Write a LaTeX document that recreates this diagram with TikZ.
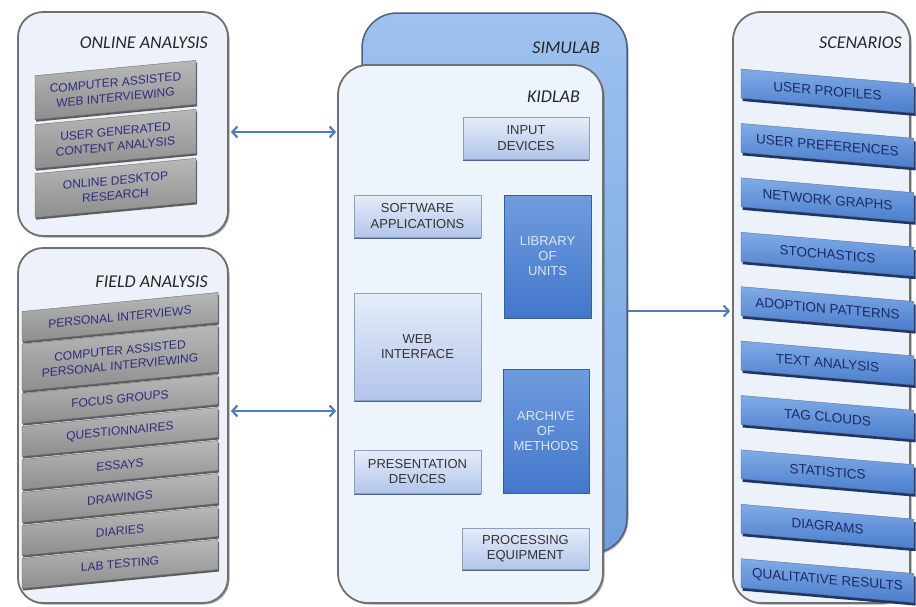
\documentclass[tikz,border=0pt]{standalone}
\usepackage{fontspec}
\setmainfont{Liberation Sans}
\newfontfamily\titlefont{Carlito}
\usetikzlibrary{shadows,arrows.meta}
\definecolor{panelfill}{HTML}{EDF2FA}
\definecolor{panelborder}{HTML}{707070}
\definecolor{simtop}{HTML}{9DC2EF}
\definecolor{simbot}{HTML}{6F9FDD}
\definecolor{simborder}{HTML}{4B5F80}
\definecolor{kidfill}{HTML}{EEF4FC}
\definecolor{lbtop}{HTML}{E6EDF9}
\definecolor{lbbot}{HTML}{B2C5EA}
\definecolor{lbborder}{HTML}{8A9FC8}
\definecolor{lbshadow}{HTML}{4E6594}
\definecolor{dbtop}{HTML}{6E9CDE}
\definecolor{dbbot}{HTML}{4477CA}
\definecolor{dbtext}{HTML}{DCE5F3}
\definecolor{gbtop}{HTML}{B8B8B8}
\definecolor{gbbot}{HTML}{8E8E8E}
\definecolor{gbborder}{HTML}{6E6E6E}
\definecolor{gbshadow}{HTML}{5C5C5C}
\definecolor{gtext}{HTML}{2D2D7D}
\definecolor{bbtop}{HTML}{80ABE6}
\definecolor{bbbot}{HTML}{4A7DCC}
\definecolor{bbshadow}{HTML}{1E3566}
\definecolor{btext}{HTML}{1C2A66}
\definecolor{arrowc}{HTML}{4F7DBF}
\definecolor{titlec}{HTML}{262626}
\definecolor{ktext}{HTML}{333333}
\begin{document}
\begin{tikzpicture}[x=1pt,y=1pt,
  panel/.style={draw=panelborder, line width=1.8pt, fill=panelfill, rounded corners=25pt,
    drop shadow={shadow xshift=1.5pt, shadow yshift=-1.5pt, opacity=0.35, fill=black}},
  ttl/.style={anchor=east, inner sep=0pt, text=titlec, font=\titlefont\itshape\fontsize{18}{20}\selectfont},
  graybar/.style={draw=gbborder, line width=0.4pt, top color=gbtop, bottom color=gbbot,
    transform shape, inner sep=0pt, align=center, text=gtext,
    font=\fontsize{12}{15}\selectfont,
    drop shadow={shadow xshift=1.2pt, shadow yshift=-2pt, fill=gbshadow, opacity=1}},
  bluebar/.style={draw=bbshadow!70, line width=0.4pt, top color=bbtop, bottom color=bbbot,
    yslant=-0.086, transform shape, inner sep=0pt, align=center, text=btext,
    minimum width=173pt, minimum height=29pt,
    font=\fontsize{13.5}{15}\selectfont,
    drop shadow={shadow xshift=1.5pt, shadow yshift=-3pt, fill=bbshadow, opacity=1}},
  lightbox/.style={draw=lbborder, line width=0.6pt, top color=lbtop, bottom color=lbbot,
    inner sep=0pt, align=center, text=ktext, font=\fontsize{13}{15.5}\selectfont,
    drop shadow={shadow xshift=0pt, shadow yshift=-1.8pt, fill=lbshadow, opacity=1}},
  darkbox/.style={draw=dbbot!80!black, line width=0.5pt, top color=dbtop, bottom color=dbbot,
    inner sep=0pt, align=center, text=dbtext, font=\fontsize{13}{15}\selectfont,
    drop shadow={shadow xshift=0pt, shadow yshift=-1.2pt, fill=lbshadow, opacity=0.8}},
  arr/.style={draw=arrowc, line width=2.2pt, >={Straight Barb[length=5pt,width=11pt]}}
]
\useasboundingbox (0,0) rectangle (916,-606);
\fill[white] (0,0) rectangle (916,-606);

% ---------- left panels ----------
\node[panel, minimum width=210pt, minimum height=224pt] (online) at (123,-124) {};
\node[ttl] (tonline) at (208,-43) {ONLINE ANALYSIS};
\begin{scope}[every node/.append style={yslant=0.095, minimum width=161pt, minimum height=44pt}]
\node[graybar] (o1) at (115.5,-90) {COMPUTER ASSISTED\\WEB INTERVIEWING};
\node[graybar] (o2) at (115.5,-139) {USER GENERATED\\CONTENT ANALYSIS};
\node[graybar] (o3) at (115.5,-188) {ONLINE DESKTOP\\RESEARCH};
\end{scope}

\node[panel, minimum width=210pt, minimum height=355pt] (field) at (123,-425.5) {};
\node[ttl] (tfield) at (208,-282) {FIELD ANALYSIS};
\begin{scope}[every node/.append style={yslant=0.097, minimum width=196pt, minimum height=30pt}]
\node[graybar] (f1) at (120,-317) {PERSONAL INTERVIEWS};
\node[graybar, minimum height=47pt] (f2) at (120,-358) {COMPUTER ASSISTED\\PERSONAL INTERVIEWING};
\node[graybar] (f3) at (120,-399) {FOCUS GROUPS};
\node[graybar] (f4) at (120,-432) {QUESTIONNAIRES};
\node[graybar] (f5) at (120,-465) {ESSAYS};
\node[graybar] (f6) at (120,-498) {DRAWINGS};
\node[graybar] (f7) at (120,-531) {DIARIES};
\node[graybar] (f8) at (120,-564) {LAB TESTING};
\end{scope}

% ---------- centre ----------
\node[draw=simborder, line width=1.5pt, top color=simtop, bottom color=simbot, rounded corners=35pt,
  minimum width=265pt, minimum height=540pt,
  drop shadow={shadow xshift=1.5pt, shadow yshift=-1.5pt, opacity=0.3, fill=black}] (simulab) at (494.5,-283) {};
\node[ttl] (tsim) at (600,-48) {SIMULAB};
\node[draw=panelborder, line width=1.8pt, fill=kidfill, rounded corners=30pt,
  minimum width=265pt, minimum height=538pt,
  drop shadow={shadow xshift=1.5pt, shadow yshift=-1.5pt, opacity=0.35, fill=black}] (kidlab) at (470.5,-334) {};
\node[ttl] (tkid) at (580,-97) {KIDLAB};

\node[lightbox, minimum width=126pt, minimum height=42pt] (input) at (526,-138) {INPUT\\DEVICES};
\node[lightbox, minimum width=127pt, minimum height=42pt] (soft) at (417.5,-216) {SOFTWARE\\APPLICATIONS};
\node[darkbox, minimum width=87pt, minimum height=123pt] (lib) at (547.5,-256.5) {LIBRARY\\OF\\UNITS};
\node[lightbox, minimum width=127pt, minimum height=107pt] (web) at (417.5,-346.5) {WEB\\INTERFACE};
\node[darkbox, minimum width=86pt, minimum height=124pt] (arch) at (546,-431) {ARCHIVE\\OF\\METHODS};
\node[lightbox, minimum width=127pt, minimum height=43pt] (pres) at (417.5,-471.5) {PRESENTATION\\DEVICES};
\node[lightbox, minimum width=127pt, minimum height=41pt] (proc) at (525.5,-548.5) {PROCESSING\\EQUIPMENT};

% ---------- right panel ----------
\node[panel, rounded corners=28pt, minimum width=177pt, minimum height=591pt] (scen) at (821.5,-307.5) {};
\node[ttl] (tscen) at (902,-43) {SCENARIOS};
\node[bluebar] (s1) at (827.5,-91) {USER PROFILES};
\node[bluebar] (s2) at (827.5,-145.4) {USER PREFERENCES};
\node[bluebar] (s3) at (827.5,-199.8) {NETWORK GRAPHS};
\node[bluebar] (s4) at (827.5,-254.2) {STOCHASTICS};
\node[bluebar] (s5) at (827.5,-308.6) {ADOPTION PATTERNS};
\node[bluebar] (s6) at (827.5,-363) {TEXT ANALYSIS};
\node[bluebar] (s7) at (827.5,-417.4) {TAG CLOUDS};
\node[bluebar] (s8) at (827.5,-471.8) {STATISTICS};
\node[bluebar] (s9) at (827.5,-526.2) {DIAGRAMS};
\node[bluebar] (s10) at (827.5,-580.6) {QUALITATIVE RESULTS};

% ---------- connectors ----------
\coordinate (ya) at (0,-132);
\coordinate (yb) at (0,-411);
\coordinate (yc) at (0,-311);
\draw[arr, <->] ([xshift=2pt]online.east |- ya) -- ([xshift=-1pt]kidlab.west |- ya);
\draw[arr, <->] ([xshift=2pt]field.east |- yb) -- ([xshift=-1pt]kidlab.west |- yb);
\draw[arr, ->] (simulab.east |- yc) -- ([xshift=-2pt]scen.west |- yc);
\end{tikzpicture}
\end{document}
